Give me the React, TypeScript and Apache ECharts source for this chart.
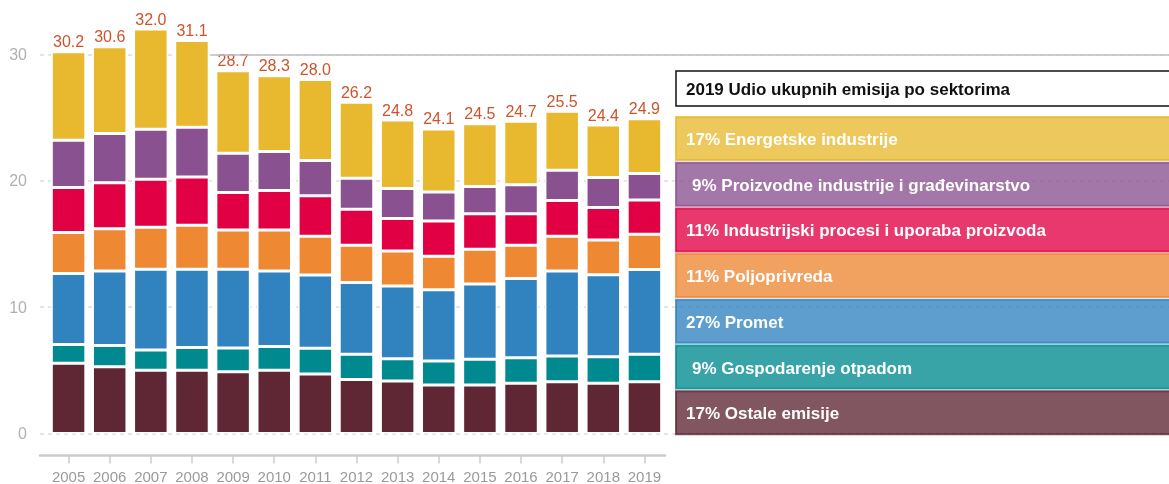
import React, { useEffect, useRef } from "react";
import * as echarts from "echarts";

const years = ["2005", "2006", "2007", "2008", "2009", "2010", "2011", "2012", "2013", "2014", "2015", "2016", "2017", "2018", "2019"];
const totals = [30.2, 30.6, 32.0, 31.1, 28.7, 28.3, 28.0, 26.2, 24.8, 24.1, 24.5, 24.7, 25.5, 24.4, 24.9];

// stacked from the bottom up
const ostaleEmisije = [5.55, 5.28, 5.0, 5.0, 4.89, 5.0, 4.7, 4.28, 4.15, 3.83, 3.83, 3.97, 4.09, 3.97, 4.09];
const gospodarenjeOtpadom = [1.5, 1.69, 1.6, 1.81, 1.87, 1.89, 2.04, 1.98, 1.76, 1.9, 2.04, 2.02, 2.04, 2.1, 2.17];
const promet = [5.61, 5.88, 6.4, 6.19, 6.24, 5.96, 5.79, 5.69, 5.75, 5.64, 5.95, 6.28, 6.72, 6.48, 6.72];
const poljoprivreda = [3.25, 3.34, 3.32, 3.48, 3.09, 3.24, 3.08, 2.95, 2.77, 2.66, 2.76, 2.63, 2.76, 2.75, 2.79];
const industrijskiProcesi = [3.55, 3.64, 3.8, 3.82, 2.98, 3.14, 3.19, 2.85, 2.58, 2.79, 2.8, 2.48, 2.82, 2.58, 2.71];
const proizvodneIndustrije = [3.74, 3.9, 3.95, 3.93, 3.1, 3.08, 2.8, 2.45, 2.37, 2.29, 2.16, 2.29, 2.4, 2.37, 2.09];
const energetskeIndustrije = [7.0, 6.87, 7.93, 6.87, 6.53, 5.99, 6.4, 6.0, 5.42, 4.99, 4.96, 5.03, 4.67, 4.15, 4.33];

const yTicks = [0, 10, 20, 30];

const legendTitle = "2019 Udio ukupnih emisija po sektorima";
// legend, top to bottom
const sectorNames = [
  "Energetske industrije",
  "Proizvodne industrije i građevinarstvo",
  "Industrijski procesi i uporaba proizvoda",
  "Poljoprivreda",
  "Promet",
  "Gospodarenje otpadom",
  "Ostale emisije",
];
const shares2019 = [17, 9, 11, 11, 27, 9, 17];
const sectorColors = ["#e8b92e", "#895190", "#e10044", "#ee8833", "#3183c0", "#008a90", "#5f2634"];

const seriesData = [
  energetskeIndustrije,
  proizvodneIndustrije,
  industrijskiProcesi,
  poljoprivreda,
  promet,
  gospodarenjeOtpadom,
  ostaleEmisije,
];

const FONT = "'Liberation Sans', Arial, sans-serif";

export default function App() {
  const ref = useRef<HTMLDivElement>(null);
  useEffect(() => {
    const chart = echarts.init(ref.current!, null, { renderer: "svg" });
    const y0 = 433.5;
    const y30 = 54.3;
    const pxPerUnit = (y0 - y30) / 30;
    const maxB = 34;
    const topB = y0 - maxB * pxPerUnit;
    const bottom = 484 - y0;

    const order = [6, 5, 4, 3, 2, 1, 0]; // bottom to top
    const bars = order.map((idx, k) => {
      const isTop = k === order.length - 1;
      return {
        type: "bar",
        name: sectorNames[idx],
        xAxisIndex: 1,
        yAxisIndex: 1,
        stack: "total",
        barWidth: 34.5,
        data: seriesData[idx],
        itemStyle: { color: sectorColors[idx], borderColor: "#ffffff", borderWidth: 1.5 },
        label: isTop
          ? {
              show: true,
              position: "top",
              distance: 2,
              formatter: (p: any) => totals[p.dataIndex].toFixed(1),
              color: "#d0532d",
              fontSize: 16,
              fontFamily: FONT,
            }
          : { show: false },
      };
    });

    const legendLeft = 676;
    const boxTop0 = 117;
    const boxPitch = 45.7;
    const boxH = 43;
    const graphics: any[] = [
      {
        type: "rect",
        z: 10,
        shape: { x: legendLeft, y: 71, width: 520, height: 35 },
        style: { fill: "#ffffff", stroke: "#111111", lineWidth: 1.5 },
      },
      {
        type: "text",
        z: 11,
        x: 686,
        y: 89,
        style: {
          text: legendTitle,
          fill: "#111111",
          font: `bold 17px ${FONT}`,
          verticalAlign: "middle",
        },
      },
    ];
    sectorNames.forEach((name, i) => {
      const top = boxTop0 + i * boxPitch;
      graphics.push({
        type: "rect",
        z: 10,
        shape: { x: legendLeft, y: top, width: 520, height: boxH },
        style: { fill: sectorColors[i], opacity: 0.78, stroke: sectorColors[i], lineWidth: 2 },
      });
      graphics.push({
        type: "text",
        z: 11,
        x: shares2019[i] < 10 ? 692 : 686,
        y: top + boxH / 2 + 1,
        style: {
          text: `${shares2019[i]}% ${name}`,
          fill: "#ffffff",
          font: `bold 17px ${FONT}`,
          verticalAlign: "middle",
        },
      });
    });

    const option: any = {
      animation: false,
      grid: [
        { left: 40, right: 0, top: y30, bottom },
        { left: 48, width: 617, top: topB, bottom },
        { left: 40, width: 625, top: topB, bottom },
      ],
      xAxis: [
        { gridIndex: 0, type: "value", min: 0, max: 1, show: false },
        {
          gridIndex: 1,
          type: "category",
          data: years,
          offset: 22,
          axisLine: { show: false, onZero: false },
          axisTick: { show: true, alignWithLabel: true, length: 8, lineStyle: { color: "#cccccc", width: 1.5 } },
          axisLabel: { color: "#9a9a9a", fontSize: 15, margin: 13, interval: 0, fontFamily: FONT },
          splitLine: { show: false },
        },
        {
          gridIndex: 2,
          type: "value",
          min: 0,
          max: 1,
          offset: 22,
          axisLine: { show: true, onZero: false, lineStyle: { color: "#cccccc", width: 2.5 } },
          axisTick: { show: false },
          axisLabel: { show: false },
          splitLine: { show: false },
        },
      ],
      yAxis: [
        {
          gridIndex: 0,
          type: "value",
          min: yTicks[0],
          max: yTicks[yTicks.length - 1],
          interval: 10,
          axisLine: { show: false },
          axisTick: { show: false },
          axisLabel: { color: "#b0b0b0", fontSize: 16, margin: 13, fontFamily: FONT },
          splitLine: { lineStyle: { color: "#dddddd", type: [4, 4], width: 1.5 } },
        },
        { gridIndex: 1, type: "value", min: 0, max: maxB, show: false },
        { gridIndex: 2, type: "value", min: 0, max: 1, show: false },
      ],
      series: [
        {
          type: "line",
          xAxisIndex: 0,
          yAxisIndex: 0,
          data: [],
          silent: true,
          markLine: {
            silent: true,
            symbol: ["none", "none"],
            label: { show: false },
            lineStyle: { color: "#bdbdbd", type: "solid", width: 1.5 },
            data: [[{ coord: [(211 - 40) / 1129, 30] }, { coord: [1, 30] }]],
          },
        },
        ...bars,
      ],
      graphic: graphics,
    };
    chart.setOption(option);
    return () => chart.dispose();
  }, []);
  return <div ref={ref} style={{ position: "fixed", left: 0, top: 0, width: 1169, height: 484 }} />;
}
